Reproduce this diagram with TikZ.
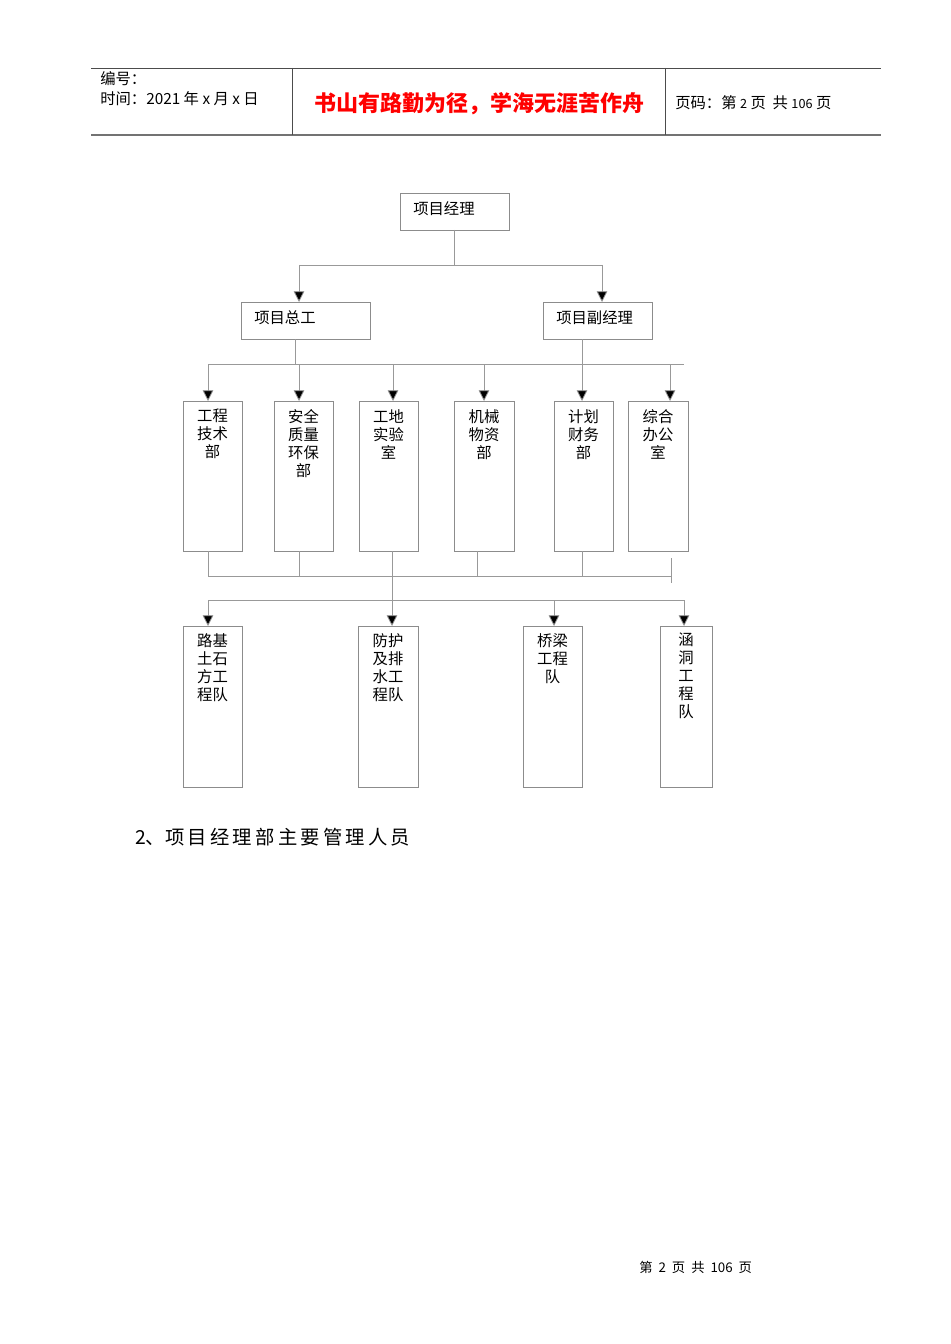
\documentclass[tikz,border=0pt]{standalone}
\usepackage{fontspec}
\setmainfont{Liberation Sans}
\newfontfamily\cjk{Noto Sans CJK SC}
\usetikzlibrary{arrows.meta}
\begin{document}
\begin{tikzpicture}[x=0.75pt,y=-0.75pt,
  box/.style={draw=black!45,line width=0.6pt,inner sep=0,anchor=north west},
  lbl/.style={font=\cjk\fontsize{11.5}{13.5}\selectfont,align=center,anchor=north,inner sep=0},
  ln/.style={draw=black!40,line width=0.6pt},
  arr/.style={ln,-{Triangle[length=8pt,width=8pt,fill=black]}}]
\useasboundingbox[fill=white] (0,0) rectangle (950,1344);
% header
\draw[black!70,line width=0.6pt] (91,68) -- (881,68);
\draw[black!55,line width=1.4pt] (91,135) -- (881,135);
\draw[black!70,line width=0.6pt] (292,68) -- (292,135) (665,68) -- (665,135);
\node[anchor=west,inner sep=0,font=\cjk\fontsize{11.5}{13}\selectfont] (h1) at (100,79) {编号：};
\node[anchor=west,inner sep=0,font=\cjk\fontsize{11.5}{13}\selectfont] (h2) at (100,99) {时间：2021 年 x 月 x 日};
\node[inner sep=0,text=red,font=\cjk\bfseries\fontsize{16.5}{19}\selectfont] (title) at (479,104) {书山有路勤为径，学海无涯苦作舟};
\node[anchor=west,inner sep=0,font=\cjk\fontsize{11.5}{13}\selectfont] (h3) at (675,103) {页码：第 {\fontsize{9.5}{11}\selectfont 2} 页\ \ 共 {\fontsize{9.5}{11}\selectfont 106} 页};
% level 1
\draw[box] (400,193) rectangle (509,230);
\node[anchor=west,inner sep=0,font=\cjk\fontsize{11.5}{13}\selectfont] (pm) at (413,209) {项目经理};
\coordinate (pmb) at (454,230);
\draw[ln] (pmb) -- (454,265) -- (299,265);
\draw[ln] (454,265) -- (602,265);
\coordinate (zgt) at (299,302); \coordinate (fjt) at (602,302);
\draw[arr] (299,265) -- (zgt);
\draw[arr] (602,265) -- (fjt);
\draw[box] (241,302) rectangle (370,339);
\node[anchor=west,inner sep=0,font=\cjk\fontsize{11.5}{13}\selectfont] (zg) at (254,318) {项目总工};
\draw[box] (543,302) rectangle (652,339);
\node[anchor=west,inner sep=0,font=\cjk\fontsize{11.5}{13}\selectfont] (fj) at (556,318) {项目副经理};
\draw[ln] (295,339) -- (295,364);
\draw[ln] (582,339) -- (582,364);
\draw[ln] (208,364) -- (684,364);
% level 3
\foreach \n/\x/\xa/\xb/\t in {d1/208/183/242/{工程\\技术\\部},d2/299/274/333/{安全\\质量\\环保\\部},d3/393/359/418/{工地\\实验\\室},d4/484/454/514/{机械\\物资\\部},d5/582/554/613/{计划\\财务\\部},d6/670/628/688/{综合\\办公\\室}}{
  \draw[arr] (\x,364) -- (\x,401);
  \draw[box] (\xa,401) rectangle (\xb,551);
  \node[lbl] (\n) at ({(\xa+\xb)/2},409) {\t};
}
\foreach \x in {208,299,477,582} \draw[ln] (\x,551) -- (\x,576);
\draw[ln] (208,576) -- (671,576);
\draw[ln] (671,558) -- (671,583);
\draw[ln] (392,551) -- (392,600);
\draw[ln] (208,600) -- (684,600);
\foreach \n/\x/\xa/\xb/\t in {t1/208/183/242/{路基\\土石\\方工\\程队},t2/392/358/418/{防护\\及排\\水工\\程队},t3/554/523/582/{桥梁\\工程\\队},t4/684/660/712/{涵\\洞\\工\\程\\队}}{
  \draw[arr] (\x,600) -- (\x,626);
  \draw[box] (\xa,626) rectangle (\xb,787);
  \node[lbl] (\n) at ({(\xa+\xb)/2},633) {\t};
}
\node[anchor=west,inner sep=0,font=\cjk\fontsize{14.5}{16}\selectfont] (sec) at (135,837) {2、项\,目\,经\,理\,部\,主\,要\,管\,理\,人\,员};
\node[anchor=west,inner sep=0,font=\cjk\fontsize{10}{12}\selectfont] (foot) at (639,1267) {第\ \ 2\ \ 页\ \ 共\ \ 106\ \ 页};
\end{tikzpicture}
\end{document}
